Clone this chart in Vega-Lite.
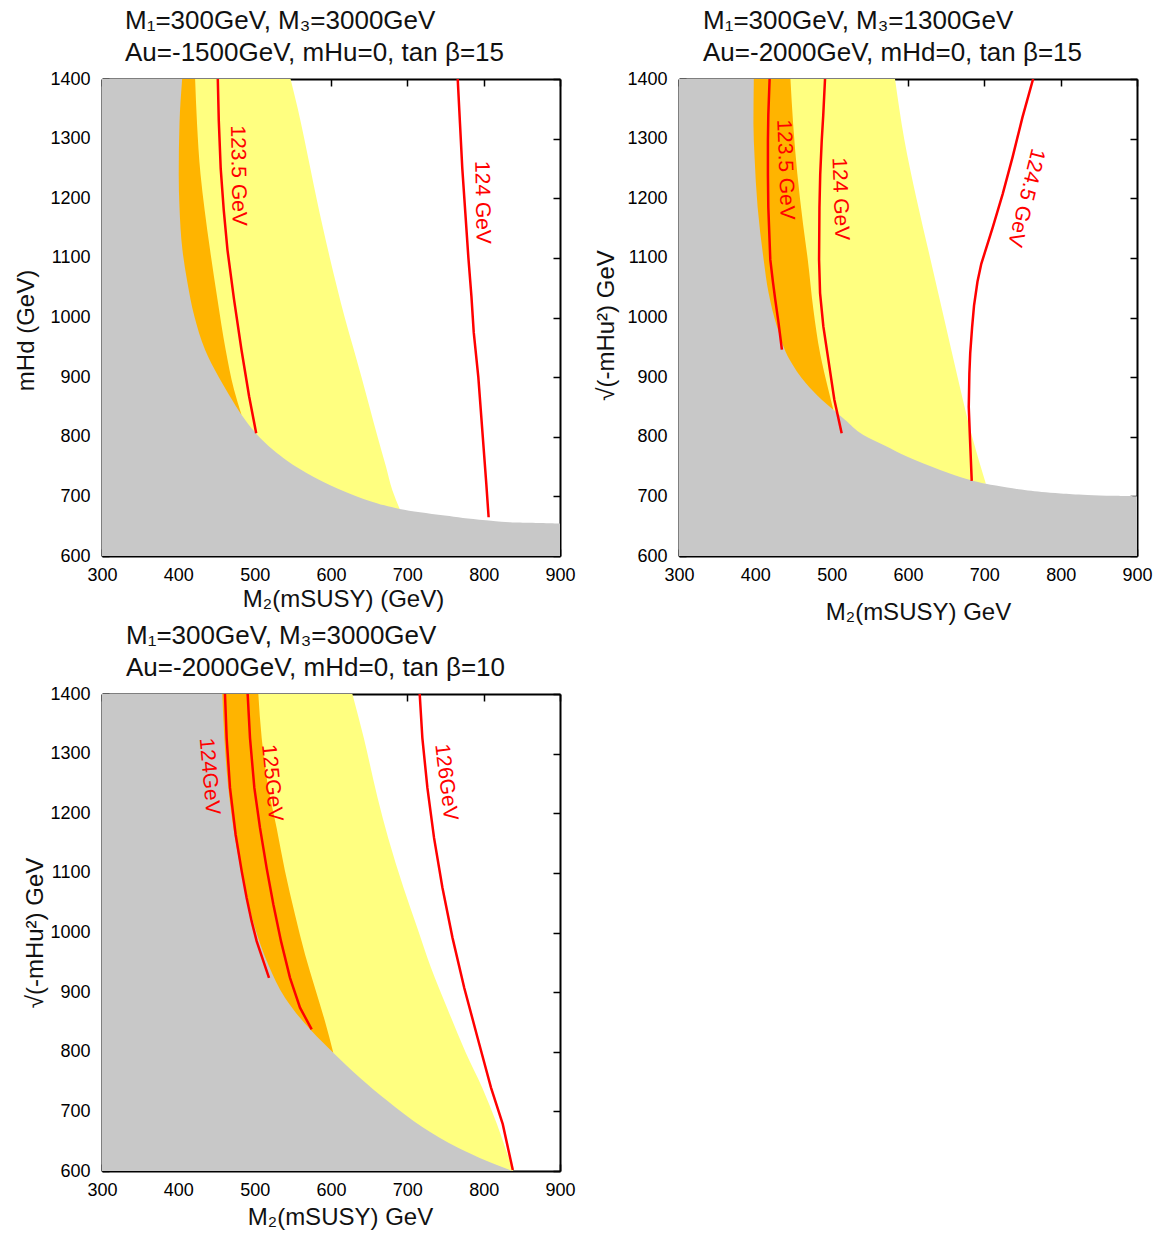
{
  "$schema": "https://vega.github.io/schema/vega-lite/v6.json",
  "padding": {"left": 14, "top": 8, "right": 5, "bottom": 5},
  "datasets": {
    "regions": [
      {"p":1,"r":"yellow","y":679,"x":690},{"p":1,"r":"yellow","y":710,"x":680.5},{"p":1,"r":"yellow","y":750,"x":672},{"p":1,"r":"yellow","y":800,"x":661},{"p":1,"r":"yellow","y":850,"x":650.5},{"p":1,"r":"yellow","y":900,"x":640},{"p":1,"r":"yellow","y":950,"x":629},{"p":1,"r":"yellow","y":1000,"x":618},{"p":1,"r":"yellow","y":1050,"x":608},{"p":1,"r":"yellow","y":1100,"x":598.5},{"p":1,"r":"yellow","y":1150,"x":589.5},{"p":1,"r":"yellow","y":1200,"x":581},{"p":1,"r":"yellow","y":1250,"x":573},{"p":1,"r":"yellow","y":1300,"x":565},{"p":1,"r":"yellow","y":1350,"x":556.5},{"p":1,"r":"yellow","y":1400,"x":547},
      {"p":1,"r":"orange","y":837,"x":482.7},{"p":1,"r":"orange","y":879,"x":473},{"p":1,"r":"orange","y":946,"x":462},{"p":1,"r":"orange","y":1030,"x":451.3},{"p":1,"r":"orange","y":1113,"x":441.6},{"p":1,"r":"orange","y":1180,"x":434.5},{"p":1,"r":"orange","y":1241,"x":429},{"p":1,"r":"orange","y":1325,"x":424.5},{"p":1,"r":"orange","y":1400,"x":422},
      {"p":1,"r":"gray","y":600,"x":900},{"p":1,"r":"gray","y":654,"x":900},{"p":1,"r":"gray","y":656,"x":845},{"p":1,"r":"gray","y":660,"x":803},{"p":1,"r":"gray","y":668,"x":749},{"p":1,"r":"gray","y":679,"x":690},{"p":1,"r":"gray","y":685,"x":670},{"p":1,"r":"gray","y":692,"x":651.5},{"p":1,"r":"gray","y":707,"x":620},{"p":1,"r":"gray","y":732,"x":578},{"p":1,"r":"gray","y":760,"x":542},{"p":1,"r":"gray","y":778,"x":524},{"p":1,"r":"gray","y":806,"x":501.5},{"p":1,"r":"gray","y":837,"x":482.7},{"p":1,"r":"gray","y":868,"x":467.5},{"p":1,"r":"gray","y":901,"x":452.5},{"p":1,"r":"gray","y":946,"x":435},{"p":1,"r":"gray","y":1002,"x":421},{"p":1,"r":"gray","y":1058,"x":412},{"p":1,"r":"gray","y":1113,"x":405.4},{"p":1,"r":"gray","y":1185,"x":401.5},{"p":1,"r":"gray","y":1241,"x":400.5},{"p":1,"r":"gray","y":1325,"x":401.5},{"p":1,"r":"gray","y":1400,"x":405},
      {"p":2,"r":"yellow","y":721,"x":702},{"p":2,"r":"yellow","y":800,"x":684},{"p":2,"r":"yellow","y":900,"x":665},{"p":2,"r":"yellow","y":1000,"x":647},{"p":2,"r":"yellow","y":1100,"x":629},{"p":2,"r":"yellow","y":1200,"x":611},{"p":2,"r":"yellow","y":1300,"x":595},{"p":2,"r":"yellow","y":1400,"x":583},
      {"p":2,"r":"orange","y":845.3,"x":502.2},{"p":2,"r":"orange","y":878.8,"x":495.7},{"p":2,"r":"orange","y":940,"x":484.8},{"p":2,"r":"orange","y":1013,"x":476.1},{"p":2,"r":"orange","y":1097,"x":468.7},{"p":2,"r":"orange","y":1157,"x":462.5},{"p":2,"r":"orange","y":1241,"x":455},{"p":2,"r":"orange","y":1325,"x":449.5},{"p":2,"r":"orange","y":1400,"x":446},
      {"p":2,"r":"gray","y":600,"x":900},{"p":2,"r":"gray","y":700,"x":900},{"p":2,"r":"gray","y":701,"x":870},{"p":2,"r":"gray","y":702.5,"x":835},{"p":2,"r":"gray","y":705,"x":800},{"p":2,"r":"gray","y":710,"x":757},{"p":2,"r":"gray","y":715,"x":730},{"p":2,"r":"gray","y":721,"x":702},{"p":2,"r":"gray","y":727,"x":683},{"p":2,"r":"gray","y":744,"x":643},{"p":2,"r":"gray","y":766,"x":600},{"p":2,"r":"gray","y":785,"x":570},{"p":2,"r":"gray","y":803.4,"x":541},{"p":2,"r":"gray","y":828.5,"x":517.4},{"p":2,"r":"gray","y":845.3,"x":502.2},{"p":2,"r":"gray","y":862,"x":487},{"p":2,"r":"gray","y":890,"x":466},{"p":2,"r":"gray","y":929,"x":445},{"p":2,"r":"gray","y":985,"x":428.3},{"p":2,"r":"gray","y":1041,"x":417.4},{"p":2,"r":"gray","y":1097,"x":410.9},{"p":2,"r":"gray","y":1185,"x":403},{"p":2,"r":"gray","y":1269,"x":399},{"p":2,"r":"gray","y":1325,"x":397.5},{"p":2,"r":"gray","y":1400,"x":398},
      {"p":3,"r":"yellow","y":600,"x":838.5},{"p":3,"r":"yellow","y":640,"x":828},{"p":3,"r":"yellow","y":680,"x":817},{"p":3,"r":"yellow","y":740,"x":798},{"p":3,"r":"yellow","y":800,"x":776},{"p":3,"r":"yellow","y":874,"x":752},{"p":3,"r":"yellow","y":941,"x":731},{"p":3,"r":"yellow","y":1008,"x":713},{"p":3,"r":"yellow","y":1075,"x":695},{"p":3,"r":"yellow","y":1158,"x":675},{"p":3,"r":"yellow","y":1226,"x":661},{"p":3,"r":"yellow","y":1326,"x":643},{"p":3,"r":"yellow","y":1400,"x":628},
      {"p":3,"r":"orange","y":798.3,"x":603},{"p":3,"r":"orange","y":851.4,"x":592},{"p":3,"r":"orange","y":907,"x":579},{"p":3,"r":"orange","y":963,"x":566},{"p":3,"r":"orange","y":1030,"x":552.8},{"p":3,"r":"orange","y":1103,"x":539.7},{"p":3,"r":"orange","y":1175.4,"x":528.8},{"p":3,"r":"orange","y":1242.5,"x":517.9},{"p":3,"r":"orange","y":1326,"x":509.2},{"p":3,"r":"orange","y":1400,"x":504.8},
      {"p":3,"r":"gray","y":600,"x":838},{"p":3,"r":"gray","y":616.8,"x":804.3},{"p":3,"r":"gray","y":639,"x":766.4},{"p":3,"r":"gray","y":672.6,"x":721.1},{"p":3,"r":"gray","y":717.3,"x":674.2},{"p":3,"r":"gray","y":756.4,"x":637.8},{"p":3,"r":"gray","y":798.3,"x":603},{"p":3,"r":"gray","y":834.6,"x":574.7},{"p":3,"r":"gray","y":890.5,"x":539.7},{"p":3,"r":"gray","y":946,"x":517.9},{"p":3,"r":"gray","y":1008,"x":500.4},{"p":3,"r":"gray","y":1075,"x":487.3},{"p":3,"r":"gray","y":1158.7,"x":474.2},{"p":3,"r":"gray","y":1242.5,"x":465.5},{"p":3,"r":"gray","y":1326,"x":460.3},{"p":3,"r":"gray","y":1400,"x":457.6}
    ],
    "lines": [
      {"p":1,"l":"123.5","i":1,"x":451.7,"y":1400},{"p":1,"l":"123.5","i":2,"x":453,"y":1330},{"p":1,"l":"123.5","i":3,"x":455.5,"y":1250},{"p":1,"l":"123.5","i":4,"x":459.5,"y":1180},{"p":1,"l":"123.5","i":5,"x":464.4,"y":1113},{"p":1,"l":"123.5","i":6,"x":473,"y":1030},{"p":1,"l":"123.5","i":7,"x":482.7,"y":946},{"p":1,"l":"123.5","i":8,"x":492.7,"y":868},{"p":1,"l":"123.5","i":9,"x":502,"y":806},
      {"p":1,"l":"124","i":1,"x":766,"y":1400},{"p":1,"l":"124","i":2,"x":769,"y":1325},{"p":1,"l":"124","i":3,"x":772,"y":1250},{"p":1,"l":"124","i":4,"x":776,"y":1175},{"p":1,"l":"124","i":5,"x":780,"y":1100},{"p":1,"l":"124","i":6,"x":784,"y":1035},{"p":1,"l":"124","i":7,"x":787,"y":975},{"p":1,"l":"124","i":8,"x":793,"y":900},{"p":1,"l":"124","i":9,"x":796.5,"y":840},{"p":1,"l":"124","i":10,"x":800,"y":780},{"p":1,"l":"124","i":11,"x":803.5,"y":720},{"p":1,"l":"124","i":12,"x":806.5,"y":665},
      {"p":2,"l":"123.5","i":1,"x":418.7,"y":1400},{"p":2,"l":"123.5","i":2,"x":417,"y":1340},{"p":2,"l":"123.5","i":3,"x":416.5,"y":1297},{"p":2,"l":"123.5","i":4,"x":416.5,"y":1240},{"p":2,"l":"123.5","i":5,"x":417,"y":1185},{"p":2,"l":"123.5","i":6,"x":419.6,"y":1097},{"p":2,"l":"123.5","i":7,"x":423,"y":1060},{"p":2,"l":"123.5","i":8,"x":426.1,"y":1030},{"p":2,"l":"123.5","i":9,"x":430.4,"y":991},{"p":2,"l":"123.5","i":10,"x":434.8,"y":946},
      {"p":2,"l":"124","i":1,"x":491.3,"y":1400},{"p":2,"l":"124","i":2,"x":489,"y":1340},{"p":2,"l":"124","i":3,"x":487,"y":1297},{"p":2,"l":"124","i":4,"x":485,"y":1240},{"p":2,"l":"124","i":5,"x":484,"y":1185},{"p":2,"l":"124","i":6,"x":483.5,"y":1097},{"p":2,"l":"124","i":7,"x":484.8,"y":1041},{"p":2,"l":"124","i":8,"x":489.1,"y":985},{"p":2,"l":"124","i":9,"x":495.7,"y":929},{"p":2,"l":"124","i":10,"x":503.5,"y":862},{"p":2,"l":"124","i":11,"x":513.1,"y":806},
      {"p":2,"l":"124.5","i":1,"x":763.9,"y":1400},{"p":2,"l":"124.5","i":2,"x":750,"y":1336},{"p":2,"l":"124.5","i":3,"x":737,"y":1269},{"p":2,"l":"124.5","i":4,"x":724,"y":1207},{"p":2,"l":"124.5","i":5,"x":711,"y":1151},{"p":2,"l":"124.5","i":6,"x":696,"y":1090},{"p":2,"l":"124.5","i":7,"x":691,"y":1060},{"p":2,"l":"124.5","i":8,"x":686.5,"y":1020},{"p":2,"l":"124.5","i":9,"x":684,"y":984},{"p":2,"l":"124.5","i":10,"x":681.5,"y":940},{"p":2,"l":"124.5","i":11,"x":680.4,"y":906},{"p":2,"l":"124.5","i":12,"x":679.6,"y":850},{"p":2,"l":"124.5","i":13,"x":681.3,"y":794},{"p":2,"l":"124.5","i":14,"x":683.5,"y":726},
      {"p":3,"l":"124","i":1,"x":461.1,"y":1400},{"p":3,"l":"124","i":2,"x":463.3,"y":1326},{"p":3,"l":"124","i":3,"x":467.7,"y":1242.5},{"p":3,"l":"124","i":4,"x":475.1,"y":1164},{"p":3,"l":"124","i":5,"x":483,"y":1103},{"p":3,"l":"124","i":6,"x":489.5,"y":1058},{"p":3,"l":"124","i":7,"x":496,"y":1019},{"p":3,"l":"124","i":8,"x":502.6,"y":985.5},{"p":3,"l":"124","i":9,"x":511.4,"y":952},{"p":3,"l":"124","i":10,"x":518.8,"y":924},
      {"p":3,"l":"125","i":1,"x":490.8,"y":1400},{"p":3,"l":"125","i":2,"x":493.9,"y":1326},{"p":3,"l":"125","i":3,"x":499.6,"y":1242.5},{"p":3,"l":"125","i":4,"x":507,"y":1175.4},{"p":3,"l":"125","i":5,"x":515.7,"y":1108},{"p":3,"l":"125","i":6,"x":524.5,"y":1047},{"p":3,"l":"125","i":7,"x":534.5,"y":985.5},{"p":3,"l":"125","i":8,"x":546.3,"y":924},{"p":3,"l":"125","i":9,"x":559.4,"y":874},{"p":3,"l":"125","i":10,"x":574.7,"y":837.4},
      {"p":3,"l":"126","i":1,"x":716.2,"y":1400},{"p":3,"l":"126","i":2,"x":719.7,"y":1326},{"p":3,"l":"126","i":3,"x":726.3,"y":1242.5},{"p":3,"l":"126","i":4,"x":735,"y":1158.7},{"p":3,"l":"126","i":5,"x":746,"y":1075},{"p":3,"l":"126","i":6,"x":759.2,"y":991},{"p":3,"l":"126","i":7,"x":774.6,"y":907},{"p":3,"l":"126","i":8,"x":792,"y":823.5},{"p":3,"l":"126","i":9,"x":809.6,"y":740},{"p":3,"l":"126","i":10,"x":825,"y":678.5},{"p":3,"l":"126","i":11,"x":838.2,"y":601.7}
    ],
    "labels": [
      {"p":1,"t":"123.5 GeV","x":478,"y":1238},
      {"p":1,"t":"124 GeV","x":797.8,"y":1193},
      {"p":2,"t":"123.5 GeV","x":439,"y":1248},
      {"p":2,"t":"124 GeV","x":510.9,"y":1199},
      {"p":2,"t":"124.5 GeV","x":754.3,"y":1201},
      {"p":3,"t":"124GeV","x":440.2,"y":1262},
      {"p":3,"t":"125GeV","x":522.3,"y":1251},
      {"p":3,"t":"126GeV","x":750.4,"y":1252}
    ]
  },
  "columns": 2,
  "spacing": {"row": 138, "column": 119},
  "bounds": "flush",
  "concat": [
    {
      "width": 458, "height": 477,
      "title": {"text": ["M₁=300GeV, M₃=3000GeV", "Au=-1500GeV, mHu=0, tan β=15"], "dx": 23},
      "layer": [
        {"data": {"name": "regions"}, "transform": [{"filter": "datum.p == 1 && datum.r == 'yellow'"}],
         "mark": {"type": "area", "orient": "horizontal", "color": "#ffff80", "interpolate": "monotone", "clip": true},
         "encoding": {
           "y": {"field": "y", "type": "quantitative", "scale": {"domain": [600, 1400], "nice": false, "zero": false}, "axis": {"orient": "left", "values": [600,700,800,900,1000,1100,1200,1300,1400], "format": "d", "title": "mHd  (GeV)", "labelPadding": 19, "titlePadding": 11, "titleY": 251}},
           "x": {"field": "x", "type": "quantitative", "scale": {"domain": [300, 900], "nice": false, "zero": false}, "axis": {"orient": "bottom", "values": [300,400,500,600,700,800,900], "format": "d", "title": "M₂(mSUSY) (GeV)", "labelPadding": 17, "titlePadding": 3, "titleX": 241}},
           "x2": {"datum": 300}
         }},
        {"data": {"name": "regions"}, "transform": [{"filter": "datum.p == 1 && datum.r == 'orange'"}],
         "mark": {"type": "area", "orient": "horizontal", "color": "#ffb400", "interpolate": "monotone", "clip": true},
         "encoding": {
           "y": {"field": "y", "type": "quantitative", "scale": {"domain": [600, 1400], "nice": false, "zero": false}, "axis": null},
           "x": {"field": "x", "type": "quantitative", "scale": {"domain": [300, 900], "nice": false, "zero": false}, "axis": null},
           "x2": {"datum": 300}
         }},
        {"data": {"name": "regions"}, "transform": [{"filter": "datum.p == 1 && datum.r == 'gray'"}],
         "mark": {"type": "area", "orient": "horizontal", "color": "#c8c8c8", "interpolate": "monotone", "clip": true},
         "encoding": {
           "y": {"field": "y", "type": "quantitative", "scale": {"domain": [600, 1400], "nice": false, "zero": false}, "axis": null},
           "x": {"field": "x", "type": "quantitative", "scale": {"domain": [300, 900], "nice": false, "zero": false}, "axis": null},
           "x2": {"datum": 300}
         }},
        {"data": {"name": "lines"}, "transform": [{"filter": "datum.p == 1"}],
         "mark": {"type": "line", "color": "#ff0000", "strokeWidth": 2.5, "clip": true},
         "encoding": {
           "y": {"field": "y", "type": "quantitative", "scale": {"domain": [600, 1400], "nice": false, "zero": false}, "axis": {"orient": "right", "values": [600,700,800,900,1000,1100,1200,1300,1400], "labels": false, "title": null}},
           "x": {"field": "x", "type": "quantitative", "scale": {"domain": [300, 900], "nice": false, "zero": false}, "axis": {"orient": "top", "values": [300,400,500,600,700,800,900], "labels": false, "title": null}},
           "detail": {"field": "l"},
           "order": {"field": "i", "type": "quantitative"}
         }},
        {"data": {"name": "labels"}, "transform": [{"filter": "datum.p == 1"}],
         "mark": {"type": "text", "angle": 89, "color": "#ff0000", "font": "Liberation Sans", "fontSize": 21, "align": "center", "baseline": "middle"},
         "encoding": {
           "y": {"field": "y", "type": "quantitative", "scale": {"domain": [600, 1400], "nice": false, "zero": false}, "axis": null},
           "x": {"field": "x", "type": "quantitative", "scale": {"domain": [300, 900], "nice": false, "zero": false}, "axis": null},
           "text": {"field": "t"}
         }}
      ],
      "resolve": {"axis": {"x": "independent", "y": "independent"}}
    },
    {
      "width": 458, "height": 477,
      "title": {"text": ["M₁=300GeV, M₃=1300GeV", "Au=-2000GeV, mHd=0, tan β=15"], "dx": 24},
      "layer": [
        {"data": {"name": "regions"}, "transform": [{"filter": "datum.p == 2 && datum.r == 'yellow'"}],
         "mark": {"type": "area", "orient": "horizontal", "color": "#ffff80", "interpolate": "monotone", "clip": true},
         "encoding": {
           "y": {"field": "y", "type": "quantitative", "scale": {"domain": [600, 1400], "nice": false, "zero": false}, "axis": {"orient": "left", "values": [600,700,800,900,1000,1100,1200,1300,1400], "format": "d", "title": "√(-mHu²) GeV", "labelPadding": 19, "titlePadding": 8, "titleY": 246}},
           "x": {"field": "x", "type": "quantitative", "scale": {"domain": [300, 900], "nice": false, "zero": false}, "axis": {"orient": "bottom", "values": [300,400,500,600,700,800,900], "format": "d", "title": "M₂(mSUSY) GeV", "labelPadding": 17, "titlePadding": 16, "titleX": 239}},
           "x2": {"datum": 300}
         }},
        {"data": {"name": "regions"}, "transform": [{"filter": "datum.p == 2 && datum.r == 'orange'"}],
         "mark": {"type": "area", "orient": "horizontal", "color": "#ffb400", "interpolate": "monotone", "clip": true},
         "encoding": {
           "y": {"field": "y", "type": "quantitative", "scale": {"domain": [600, 1400], "nice": false, "zero": false}, "axis": null},
           "x": {"field": "x", "type": "quantitative", "scale": {"domain": [300, 900], "nice": false, "zero": false}, "axis": null},
           "x2": {"datum": 300}
         }},
        {"data": {"name": "regions"}, "transform": [{"filter": "datum.p == 2 && datum.r == 'gray'"}],
         "mark": {"type": "area", "orient": "horizontal", "color": "#c8c8c8", "interpolate": "monotone", "clip": true},
         "encoding": {
           "y": {"field": "y", "type": "quantitative", "scale": {"domain": [600, 1400], "nice": false, "zero": false}, "axis": null},
           "x": {"field": "x", "type": "quantitative", "scale": {"domain": [300, 900], "nice": false, "zero": false}, "axis": null},
           "x2": {"datum": 300}
         }},
        {"data": {"name": "lines"}, "transform": [{"filter": "datum.p == 2"}],
         "mark": {"type": "line", "color": "#ff0000", "strokeWidth": 2.5, "clip": true},
         "encoding": {
           "y": {"field": "y", "type": "quantitative", "scale": {"domain": [600, 1400], "nice": false, "zero": false}, "axis": {"orient": "right", "values": [600,700,800,900,1000,1100,1200,1300,1400], "labels": false, "title": null}},
           "x": {"field": "x", "type": "quantitative", "scale": {"domain": [300, 900], "nice": false, "zero": false}, "axis": {"orient": "top", "values": [300,400,500,600,700,800,900], "labels": false, "title": null}},
           "detail": {"field": "l"},
           "order": {"field": "i", "type": "quantitative"}
         }},
        {"data": {"name": "labels"}, "transform": [{"filter": "datum.p == 2 && datum.t != '124.5 GeV'"}],
         "mark": {"type": "text", "angle": 88, "color": "#ff0000", "font": "Liberation Sans", "fontSize": 21, "align": "center", "baseline": "middle"},
         "encoding": {
           "y": {"field": "y", "type": "quantitative", "scale": {"domain": [600, 1400], "nice": false, "zero": false}, "axis": null},
           "x": {"field": "x", "type": "quantitative", "scale": {"domain": [300, 900], "nice": false, "zero": false}, "axis": null},
           "text": {"field": "t"}
         }},
        {"data": {"name": "labels"}, "transform": [{"filter": "datum.p == 2 && datum.t == '124.5 GeV'"}],
         "mark": {"type": "text", "angle": 104, "color": "#ff0000", "font": "Liberation Sans", "fontSize": 21, "align": "center", "baseline": "middle"},
         "encoding": {
           "y": {"field": "y", "type": "quantitative", "scale": {"domain": [600, 1400], "nice": false, "zero": false}, "axis": null},
           "x": {"field": "x", "type": "quantitative", "scale": {"domain": [300, 900], "nice": false, "zero": false}, "axis": null},
           "text": {"field": "t"}
         }}
      ],
      "resolve": {"axis": {"x": "independent", "y": "independent"}}
    },
    {
      "width": 458, "height": 477,
      "title": {"text": ["M₁=300GeV, M₃=3000GeV", "Au=-2000GeV, mHd=0, tan β=10"], "dx": 24},
      "layer": [
        {"data": {"name": "regions"}, "transform": [{"filter": "datum.p == 3 && datum.r == 'yellow'"}],
         "mark": {"type": "area", "orient": "horizontal", "color": "#ffff80", "interpolate": "monotone", "clip": true},
         "encoding": {
           "y": {"field": "y", "type": "quantitative", "scale": {"domain": [600, 1400], "nice": false, "zero": false}, "axis": {"orient": "left", "values": [600,700,800,900,1000,1100,1200,1300,1400], "format": "d", "title": "√(-mHu²) GeV", "labelPadding": 19, "titlePadding": 2}},
           "x": {"field": "x", "type": "quantitative", "scale": {"domain": [300, 900], "nice": false, "zero": false}, "axis": {"orient": "bottom", "values": [300,400,500,600,700,800,900], "format": "d", "title": "M₂(mSUSY) GeV", "labelPadding": 17, "titlePadding": 6, "titleX": 238}},
           "x2": {"datum": 300}
         }},
        {"data": {"name": "regions"}, "transform": [{"filter": "datum.p == 3 && datum.r == 'orange'"}],
         "mark": {"type": "area", "orient": "horizontal", "color": "#ffb400", "interpolate": "monotone", "clip": true},
         "encoding": {
           "y": {"field": "y", "type": "quantitative", "scale": {"domain": [600, 1400], "nice": false, "zero": false}, "axis": null},
           "x": {"field": "x", "type": "quantitative", "scale": {"domain": [300, 900], "nice": false, "zero": false}, "axis": null},
           "x2": {"datum": 300}
         }},
        {"data": {"name": "regions"}, "transform": [{"filter": "datum.p == 3 && datum.r == 'gray'"}],
         "mark": {"type": "area", "orient": "horizontal", "color": "#c8c8c8", "interpolate": "monotone", "clip": true},
         "encoding": {
           "y": {"field": "y", "type": "quantitative", "scale": {"domain": [600, 1400], "nice": false, "zero": false}, "axis": null},
           "x": {"field": "x", "type": "quantitative", "scale": {"domain": [300, 900], "nice": false, "zero": false}, "axis": null},
           "x2": {"datum": 300}
         }},
        {"data": {"name": "lines"}, "transform": [{"filter": "datum.p == 3"}],
         "mark": {"type": "line", "color": "#ff0000", "strokeWidth": 2.5, "clip": true},
         "encoding": {
           "y": {"field": "y", "type": "quantitative", "scale": {"domain": [600, 1400], "nice": false, "zero": false}, "axis": {"orient": "right", "values": [600,700,800,900,1000,1100,1200,1300,1400], "labels": false, "title": null}},
           "x": {"field": "x", "type": "quantitative", "scale": {"domain": [300, 900], "nice": false, "zero": false}, "axis": {"orient": "top", "values": [300,400,500,600,700,800,900], "labels": false, "title": null}},
           "detail": {"field": "l"},
           "order": {"field": "i", "type": "quantitative"}
         }},
        {"data": {"name": "labels"}, "transform": [{"filter": "datum.p == 3 && datum.t == '124GeV'"}],
         "mark": {"type": "text", "angle": 85, "color": "#ff0000", "font": "Liberation Sans", "fontSize": 21, "align": "center", "baseline": "middle"},
         "encoding": {
           "y": {"field": "y", "type": "quantitative", "scale": {"domain": [600, 1400], "nice": false, "zero": false}, "axis": null},
           "x": {"field": "x", "type": "quantitative", "scale": {"domain": [300, 900], "nice": false, "zero": false}, "axis": null},
           "text": {"field": "t"}
         }},
        {"data": {"name": "labels"}, "transform": [{"filter": "datum.p == 3 && datum.t == '125GeV'"}],
         "mark": {"type": "text", "angle": 84.5, "color": "#ff0000", "font": "Liberation Sans", "fontSize": 21, "align": "center", "baseline": "middle"},
         "encoding": {
           "y": {"field": "y", "type": "quantitative", "scale": {"domain": [600, 1400], "nice": false, "zero": false}, "axis": null},
           "x": {"field": "x", "type": "quantitative", "scale": {"domain": [300, 900], "nice": false, "zero": false}, "axis": null},
           "text": {"field": "t"}
         }},
        {"data": {"name": "labels"}, "transform": [{"filter": "datum.p == 3 && datum.t == '126GeV'"}],
         "mark": {"type": "text", "angle": 83, "color": "#ff0000", "font": "Liberation Sans", "fontSize": 21, "align": "center", "baseline": "middle"},
         "encoding": {
           "y": {"field": "y", "type": "quantitative", "scale": {"domain": [600, 1400], "nice": false, "zero": false}, "axis": null},
           "x": {"field": "x", "type": "quantitative", "scale": {"domain": [300, 900], "nice": false, "zero": false}, "axis": null},
           "text": {"field": "t"}
         }}
      ],
      "resolve": {"axis": {"x": "independent", "y": "independent"}}
    }
  ],
  "config": {
    "view": {"stroke": null},
    "font": "Liberation Sans",
    "axis": {"grid": false, "domainColor": "black", "domainWidth": 2, "tickColor": "black", "tickWidth": 1.5, "tickSize": -7, "labelFont": "Liberation Sans", "labelFontSize": 18, "labelColor": "black", "titleFont": "Liberation Sans", "titleFontSize": 24, "titleFontWeight": "normal", "titleColor": "#111", "zindex": 1, "labelFlush": false, "labelOverlap": false},
    "title": {"font": "Liberation Sans", "fontSize": 26, "fontWeight": "normal", "color": "#111", "anchor": "start", "frame": "group", "lineHeight": 32, "offset": 4}
  }
}
